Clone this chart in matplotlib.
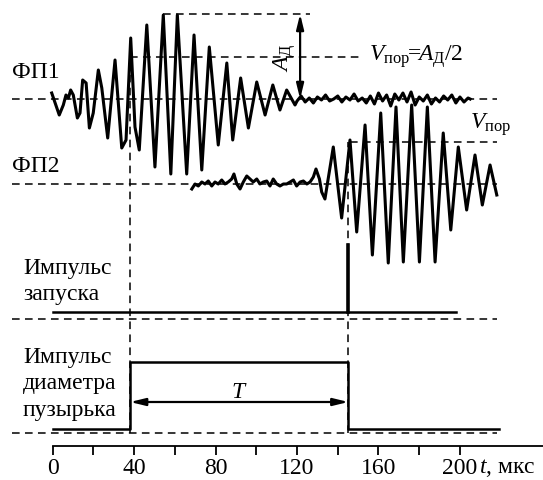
import matplotlib
matplotlib.use("Agg")
import matplotlib.pyplot as plt
from matplotlib.ticker import FixedLocator

plt.rcParams["font.family"] = ["Liberation Serif", "DejaVu Serif"]
plt.rcParams["mathtext.fontset"] = "custom"
plt.rcParams["mathtext.rm"] = "Liberation Serif"
plt.rcParams["mathtext.it"] = "Liberation Serif:italic"

# photodetector 1: time (us) and amplitude about its baseline
fp1_t = [-0.5, 3.2, 5.2, 6.5, 7.7, 8.8, 10.1, 12.1, 13.4, 14.7, 16.4, 18.0, 19.9,
         22.4, 24.1, 27.0, 30.6, 33.9, 36.0, 38.3, 40.4, 42.5, 46.2, 50.2, 54.3,
         58.0, 61.2, 65.8, 69.4, 73.2, 76.9, 81.3, 85.5, 88.4, 92.3, 96.1, 100.2,
         104.3, 108.1, 111.6, 114.9, 119.0,
         120, 122, 124, 126, 128, 130, 132, 134, 136, 138, 140, 142, 144, 146,
         148, 150, 152, 154, 156, 158, 160, 162, 164, 166, 168, 170, 172, 174,
         176, 178, 180, 182, 184, 186, 188, 190, 192, 194, 196, 198, 200, 202,
         204, 205]
fp1_a = [6, -16, -6, 4, 1, 9, 4, -19, -14, 19, 16, -29, -14,
         29, 11, -39, 39, -49, -41, 61, -28, -51, 74, -68, 84,
         -75, 84, -75, 64, -71, 52, -46, 36, -41, 21, -29, 17,
         -16, 14, -11, 9, -6,
         -2, 3, -3, 1, -4, 2, -1, 4, -2, 0, 3, -3, 2, -1,
         5, -2, 1, -4, 3, -5, 6, -2, 4, -7, 5, -1, 6, -3,
         7, -6, 2, -2, 4, -5, 1, -3, 3, -1, 4, -4, 2, -3,
         1, 0]

# photodetector 2
fp2_t = [68.3, 69.9, 71.5, 73.2, 74.8, 76.4, 78.1, 79.7, 81.3, 83.0, 84.6, 86.2,
         87.9, 89.0, 90.4, 92.0, 93.6, 95.3, 96.9, 98.5, 100.2, 101.8, 103.4,
         105.1, 106.7, 108.3, 110.0, 111.6, 113.3, 114.9, 116.6, 118.2, 119.8,
         121.5, 123.1, 124.8, 126.4, 128.0, 129.3, 131.0, 132.1, 133.7,
         137.8, 141.9, 146.0, 149.3, 153.4, 157.0, 161.1, 164.8, 168.6, 172.2,
         176.3, 180.1, 184.0, 187.8, 191.8, 195.5, 199.2, 203.3, 207.4, 211.0,
         214.8, 218.1]
fp2_a = [-5, 0, -2, 2, 0, 3, -2, 2, 0, 4, 0, 2,
         5, 10, 0, -5, 2, 8, 5, 2, 5, 0, 2,
         3, -2, 5, 0, -2, 0, 0, 2, 4, -2,
         2, 3, 0, 2, 7, 15, 5, -8, -15,
         37, -34, 44, -48, 59, -71, 71, -79, 77, -78,
         79, -78, 77, -78, 51, -46, 37, -26, 29, -21,
         19, -11]

major_ticks = [0, 40, 80, 120, 160, 200]
minor_ticks = [20, 60, 100, 140, 180]

t_bubble_start = 38.0   # us
t_bubble_end = 145.2    # us
t_signal_end = 198.0
t_bubble_trace_end = 219.0
amp_max = 85            # A_D
amp_threshold_2 = 42
spike_height = 67
pulse_height = 67

# vertical layout (px from bottom)
fp1_base = 381
fp2_base = 296
launch_low = 168
launch_ref = 161
bubble_low = 51
bubble_ref = 47
axis_y = 34

black = "black"
dash = (0, (5, 3.5))

fig = plt.figure(figsize=(5.43, 4.80), dpi=100)
ax = fig.add_axes([0, 0, 1, 1])
ax.set_xlim(-25.9, 240.8)
ax.set_ylim(0, 480)

# reference dashed baselines
for y in [fp1_base, fp2_base, launch_ref, bubble_ref]:
    ax.plot([-20.2, 218.2], [y, y], color=black, lw=1.1, ls=dash)

# threshold and amplitude guides
ax.plot([54.3, 126.4], [fp1_base + amp_max] * 2, color=black, lw=1.1, ls=dash)
ax.plot([t_bubble_start, 151], [fp1_base + amp_max / 2] * 2, color=black, lw=1.1, ls=dash)
ax.plot([146, 218.2], [fp2_base + amp_threshold_2] * 2, color=black, lw=1.1, ls=dash)
ax.plot([t_bubble_start] * 2, [bubble_ref, fp1_base + amp_max / 2], color=black, lw=1.1, ls=dash)
ax.plot([t_bubble_end] * 2, [bubble_ref, fp2_base + amp_threshold_2], color=black, lw=1.1, ls=dash)

# signals
ax.plot(fp1_t, [fp1_base + a for a in fp1_a], color=black, lw=2.2)
ax.plot(fp2_t, [fp2_base + a for a in fp2_a], color=black, lw=2.2)

# launch pulse
ax.plot([0, t_signal_end], [launch_low, launch_low], color=black, lw=1.8)
ax.plot([t_bubble_end, t_bubble_end], [launch_low, launch_low + spike_height], color=black, lw=2.6)

# bubble diameter pulse
ax.plot([0, t_bubble_start, t_bubble_start, t_bubble_end, t_bubble_end, t_bubble_trace_end],
        [bubble_low, bubble_low, bubble_low + pulse_height, bubble_low + pulse_height,
         bubble_low, bubble_low], color=black, lw=1.8)

arrow = dict(arrowstyle="<|-|>,head_length=0.9,head_width=0.22", color=black,
             lw=1.6, shrinkA=0, shrinkB=0)
ax.annotate("", xy=(121.5, fp1_base), xytext=(121.5, fp1_base + amp_max), arrowprops=arrow)
ax.annotate("", xy=(t_bubble_start, 78), xytext=(t_bubble_end, 78), arrowprops=arrow)

fs = 17
ax.text(-20, 408, "ФП1", fontsize=fs, va="center", ha="left")
ax.text(-20, 314, "ФП2", fontsize=fs, va="center", ha="left")
ax.text(-14.6, 198.5, "Импульс\nзапуска", fontsize=fs, va="center", ha="left",
        linespacing=1.3)
ax.text(-14.6, 96, "Импульс\nдиаметра\nпузырька", fontsize=fs, va="center", ha="left",
        linespacing=1.35)
ax.text(91.5, 88, "$T$", fontsize=fs, ha="center", va="center")
ax.text(114.1, fp1_base + 41, r"$A_{\mathrm{Д}}$", fontsize=fs, ha="center", va="center",
        rotation=90)
ax.text(155.5, fp1_base + 42, r"$V_{\mathrm{пор}}\!\!=\!\!A_{\mathrm{Д}}/2$", fontsize=fs,
        ha="left", va="center")
ax.text(205, 355, r"$V_{\mathrm{пор}}$", fontsize=fs, ha="left", va="center")

# time axis
for side in ["top", "left", "right"]:
    ax.spines[side].set_visible(False)
ax.spines["bottom"].set_position(("data", axis_y))
ax.spines["bottom"].set_bounds(0, 241)
ax.spines["bottom"].set_linewidth(1.3)
ax.set_yticks([])
ax.xaxis.set_major_locator(FixedLocator(major_ticks))
ax.xaxis.set_minor_locator(FixedLocator(minor_ticks))
ax.set_xticklabels([str(v) for v in major_ticks])
ax.tick_params(axis="x", which="both", direction="out", length=6.5, width=1.3,
               labelsize=fs, pad=2)
ax.text(209.5, 12, "$t$, мкс", fontsize=fs, ha="left", va="center")
ax.patch.set_alpha(0)

fig.savefig("out.png", dpi=100)
